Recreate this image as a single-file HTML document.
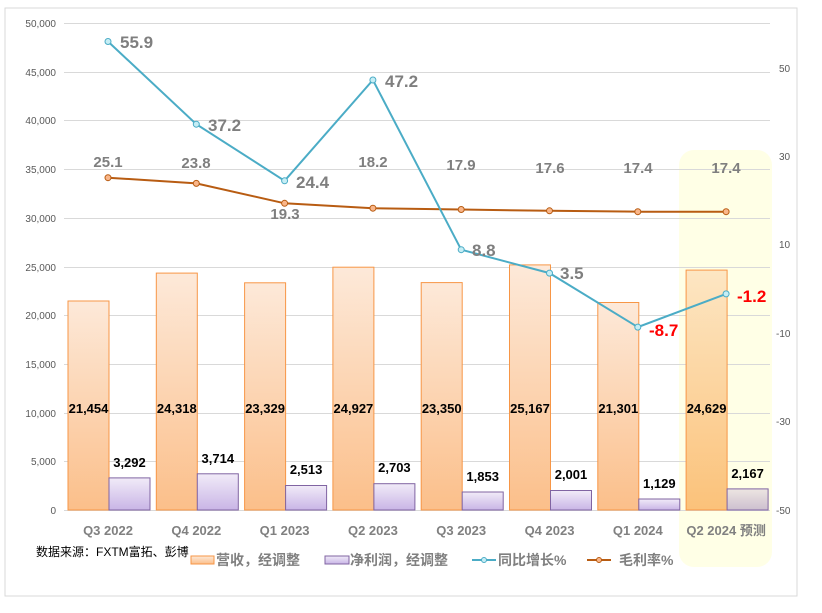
<!DOCTYPE html>
<html><head><meta charset="utf-8"><style>
html,body{margin:0;padding:0;background:#fff}
svg text{font-family:"Liberation Sans","Noto Sans CJK SC",sans-serif}
</style></head><body>
<svg width="822" height="608" viewBox="0 0 822 608" xmlns="http://www.w3.org/2000/svg">
<defs>
<linearGradient id="gr" x1="0" y1="0" x2="0" y2="1"><stop offset="0" stop-color="#fde9d9"/><stop offset="1" stop-color="#fbbf8a"/></linearGradient>
<linearGradient id="gr2" x1="0" y1="0" x2="0" y2="1"><stop offset="0" stop-color="#fde6c3"/><stop offset="1" stop-color="#fbc27a"/></linearGradient>
<linearGradient id="gp" x1="0" y1="0" x2="0" y2="1"><stop offset="0" stop-color="#f1ebf8"/><stop offset="1" stop-color="#c9b5e6"/></linearGradient>
<linearGradient id="gp2" x1="0" y1="0" x2="0" y2="1"><stop offset="0" stop-color="#ede6e2"/><stop offset="1" stop-color="#cdbfcf"/></linearGradient>
</defs>
<rect x="5" y="8" width="792" height="588" fill="#fff" stroke="#d9d9d9"/>
<rect x="679" y="150" width="93" height="417" rx="15" fill="#ffffe6"/>
<g stroke="#d9d9d9" stroke-width="1">
<line x1="64" x2="770" y1="23.5" y2="23.5"/><line x1="64" x2="770" y1="72.5" y2="72.5"/><line x1="64" x2="770" y1="120.5" y2="120.5"/><line x1="64" x2="770" y1="169.5" y2="169.5"/><line x1="64" x2="770" y1="218.5" y2="218.5"/><line x1="64" x2="770" y1="267.5" y2="267.5"/><line x1="64" x2="770" y1="315.5" y2="315.5"/><line x1="64" x2="770" y1="364.5" y2="364.5"/><line x1="64" x2="770" y1="413.5" y2="413.5"/><line x1="64" x2="770" y1="461.5" y2="461.5"/><line x1="64" x2="770" y1="510.5" y2="510.5"/>
</g>
<g font-size="10" fill="#595959" text-anchor="end">
<text x="56" y="27">50,000</text><text x="56" y="76">45,000</text><text x="56" y="124">40,000</text><text x="56" y="173">35,000</text><text x="56" y="222">30,000</text><text x="56" y="271">25,000</text><text x="56" y="319">20,000</text><text x="56" y="368">15,000</text><text x="56" y="417">10,000</text><text x="56" y="465">5,000</text><text x="56" y="514">0</text>
</g>
<g font-size="10" fill="#595959">
<text x="779" y="72">50</text><text x="779" y="160">30</text><text x="779" y="248">10</text><text x="776" y="337">-10</text><text x="776" y="425">-30</text><text x="776" y="514">-50</text>
</g>
<g stroke="#f79646" stroke-width="1">
<rect x="68" y="301" width="41" height="209" fill="url(#gr)"/>
<rect x="156.3" y="273.1" width="41" height="236.9" fill="url(#gr)"/>
<rect x="244.6" y="282.8" width="41" height="227.2" fill="url(#gr)"/>
<rect x="332.9" y="267.2" width="41" height="242.8" fill="url(#gr)"/>
<rect x="421.2" y="282.6" width="41" height="227.4" fill="url(#gr)"/>
<rect x="509.5" y="264.9" width="41" height="245.1" fill="url(#gr)"/>
<rect x="597.8" y="302.5" width="41" height="207.5" fill="url(#gr)"/>
<rect x="686.1" y="270.1" width="41" height="239.9" fill="url(#gr2)"/>
</g>
<g stroke="#8064a2" stroke-width="1">
<rect x="109" y="477.9" width="41" height="32.1" fill="url(#gp)"/>
<rect x="197.3" y="473.8" width="41" height="36.2" fill="url(#gp)"/>
<rect x="285.6" y="485.5" width="41" height="24.5" fill="url(#gp)"/>
<rect x="373.9" y="483.7" width="41" height="26.3" fill="url(#gp)"/>
<rect x="462.2" y="492" width="41" height="18" fill="url(#gp)"/>
<rect x="550.5" y="490.5" width="41" height="19.5" fill="url(#gp)"/>
<rect x="638.8" y="499" width="41" height="11" fill="url(#gp)"/>
<rect x="727.1" y="488.9" width="41" height="21.1" fill="url(#gp2)"/>
</g>
<g font-size="13" font-weight="bold" fill="#000" text-anchor="middle">
<text x="88.5" y="413">21,454</text><text x="176.8" y="413">24,318</text><text x="265.1" y="413">23,329</text><text x="353.4" y="413">24,927</text><text x="441.7" y="413">23,350</text><text x="530" y="413">25,167</text><text x="618.3" y="413">21,301</text><text x="706.6" y="413">24,629</text>
<text x="129.5" y="467">3,292</text><text x="217.8" y="463">3,714</text><text x="306.1" y="474">2,513</text><text x="394.4" y="472">2,703</text><text x="482.7" y="481">1,853</text><text x="571" y="479">2,001</text><text x="659.3" y="488">1,129</text><text x="747.6" y="478">2,167</text>
</g>
<polyline fill="none" stroke="#b85c12" stroke-width="2" points="108,177.7 196.3,183.4 284.6,203.3 372.9,208.2 461.2,209.5 549.5,210.8 637.8,211.7 726.1,211.7"/>
<g fill="#f9b68a" stroke="#b85c12" stroke-width="1">
<circle cx="108" cy="177.7" r="3"/><circle cx="196.3" cy="183.4" r="3"/><circle cx="284.6" cy="203.3" r="3"/><circle cx="372.9" cy="208.2" r="3"/><circle cx="461.2" cy="209.5" r="3"/><circle cx="549.5" cy="210.8" r="3"/><circle cx="637.8" cy="211.7" r="3"/><circle cx="726.1" cy="211.7" r="3"/>
</g>
<polyline fill="none" stroke="#4bacc6" stroke-width="2" points="108,41.5 196.3,124.2 284.6,180.8 372.9,80 461.2,249.7 549.5,273.1 637.8,327.1 726.1,293.9"/>
<g fill="#c6eef5" stroke="#4bacc6" stroke-width="1">
<circle cx="108" cy="41.5" r="3"/><circle cx="196.3" cy="124.2" r="3"/><circle cx="284.6" cy="180.8" r="3"/><circle cx="372.9" cy="80" r="3"/><circle cx="461.2" cy="249.7" r="3"/><circle cx="549.5" cy="273.1" r="3"/><circle cx="637.8" cy="327.1" r="3"/><circle cx="726.1" cy="293.9" r="3"/>
</g>
<g font-size="15" font-weight="bold" fill="#7f7f7f" text-anchor="middle">
<text x="108" y="167">25.1</text><text x="196" y="168">23.8</text><text x="285" y="219">19.3</text><text x="373" y="167">18.2</text><text x="461" y="170">17.9</text><text x="550" y="173">17.6</text><text x="638" y="173">17.4</text><text x="726" y="173">17.4</text>
</g>
<g font-size="17" font-weight="bold" fill="#7f7f7f">
<text x="120" y="48">55.9</text><text x="208" y="131">37.2</text><text x="296" y="188">24.4</text><text x="385" y="87">47.2</text><text x="472" y="256">8.8</text><text x="560" y="279">3.5</text>
<text x="649" y="336" fill="#ff0000">-8.7</text><text x="737" y="302" fill="#ff0000">-1.2</text>
</g>
<g font-size="13" font-weight="bold" fill="#808080" text-anchor="middle">
<text x="108" y="535">Q3 2022</text><text x="196.3" y="535">Q4 2022</text><text x="284.6" y="535">Q1 2023</text><text x="372.9" y="535">Q2 2023</text><text x="461.2" y="535">Q3 2023</text><text x="549.5" y="535">Q4 2023</text><text x="637.8" y="535">Q1 2024</text><text x="726.1" y="535">Q2 2024 预测</text>
</g>
<text x="36" y="556" font-size="12" fill="#000">数据来源：FXTM富拓、彭博</text>
<rect x="191" y="556" width="23" height="8" fill="url(#gr)" stroke="#f79646"/>
<rect x="325" y="556" width="24" height="8" fill="url(#gp)" stroke="#8064a2"/>
<line x1="472" x2="496" y1="560" y2="560" stroke="#4bacc6" stroke-width="2"/><circle cx="484" cy="560" r="2.5" fill="#c6eef5" stroke="#4bacc6"/>
<line x1="587" x2="611" y1="560" y2="560" stroke="#b85c12" stroke-width="2"/><circle cx="599" cy="560" r="2.5" fill="#f9b68a" stroke="#b85c12"/>
<g font-size="14" font-weight="bold" fill="#808080">
<text x="216" y="565">营收，经调整</text><text x="350" y="565">净利润，经调整</text><text x="498" y="565">同比增长%</text><text x="619" y="565">毛利率%</text>
</g>
</svg>
</body></html>
